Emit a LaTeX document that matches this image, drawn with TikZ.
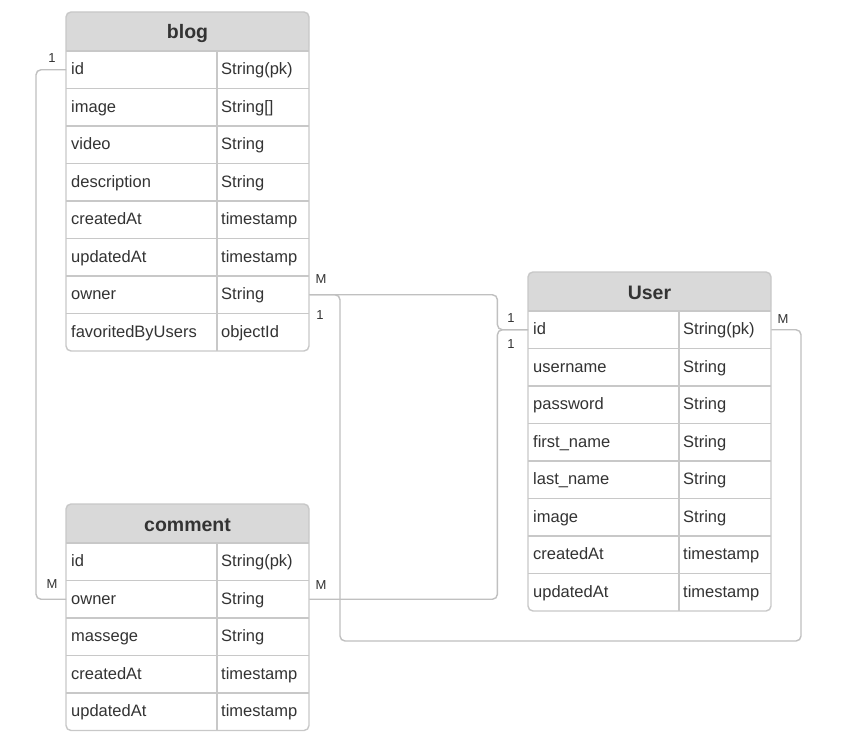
\documentclass[tikz,border=0pt]{standalone}
\usepackage{fontspec}
\setmainfont{Liberation Sans}
\definecolor{txt}{HTML}{333333}
\definecolor{hdrfill}{HTML}{D9D9D9}
\definecolor{bord}{HTML}{C8C8C8}
\definecolor{connc}{HTML}{C0C0C0}
\tikzset{
  tline/.style={draw=bord, line width=1.4pt},
  hdrtext/.style={font=\fontsize{19.5pt}{22pt}\selectfont\bfseries, text=txt, text height=15pt, text depth=0pt, inner sep=0pt},
  fldtext/.style={font=\fontsize{16.5pt}{19pt}\selectfont, text=txt, anchor=west, text height=12.5pt, text depth=2.5pt, inner xsep=5pt, inner ysep=0pt, text width=141pt, align=left, minimum height=37.5pt},
  typtext/.style={font=\fontsize{16.5pt}{19pt}\selectfont, text=txt, anchor=west, text height=12.5pt, text depth=2.5pt, inner xsep=4pt, inner ysep=0pt, text width=84pt, align=left, minimum height=37.5pt},
  lbl/.style={font=\fontsize{13pt}{15pt}\selectfont, text=txt, inner sep=0pt},
  conn/.style={draw=connc, line width=1.4pt, rounded corners=5pt},
}
% #1 name, #2 title, #3 x, #4 y, #5 number of rows, #6 rows
\newcommand\erdtable[6]{%
  \begin{scope}[shift={(#3,#4)}]
    \fill[hdrfill, rounded corners=5pt] (0,0) rectangle (243,39);
    \fill[hdrfill] (0,20) rectangle (243,39);
    \foreach \k in {0,...,\numexpr#5-1\relax}{
      \draw[tline] (0,{39+\k*37.5}) -- (243,{39+\k*37.5});
    }
    \draw[tline] (151,39) -- (151,{39+#5*37.5});
    \draw[tline, rounded corners=5pt] (0,0) rectangle (243,{39+#5*37.5});
    \node[hdrtext] (#1) at (121.5,19.5) {#2};
    \foreach \f/\t [count=\i] in {#6}{
      \node[fldtext] (#1-f\i) at (0,{39+(\i-0.5)*37.5}) {\f};
      \node[typtext] (#1-t\i) at (151,{39+(\i-0.5)*37.5}) {\t};
    }
  \end{scope}}
\begin{document}
\begin{tikzpicture}[x=1pt,y=-1pt]
  \fill[white] (0,0) rectangle (848,746);
  \useasboundingbox (0,0) rectangle (848,746);

  \erdtable{blog}{blog}{66}{12}{8}{id/String(pk), image/String[], video/String, description/String, createdAt/timestamp, updatedAt/timestamp, owner/String, favoritedByUsers/objectId}
  \erdtable{User}{User}{528}{272}{8}{id/String(pk), username/String, password/String, first\_name/String, last\_name/String, image/String, createdAt/timestamp, updatedAt/timestamp}
  \erdtable{comment}{comment}{66}{504}{5}{id/String(pk), owner/String, massege/String, createdAt/timestamp, updatedAt/timestamp}

  \coordinate (loopA) at (340,641);
  \coordinate (loopB) at (801,641);

  \draw[conn] (blog-f1.west) -- ++(-30,0) |- (comment-f2.west);
  \draw[conn] (blog-t7.east) -- ++(188,0) |- (User-f1.west);
  \draw[conn] (comment-t2.east) -- ++(188,0) |- (User-f1.west);
  \draw[conn] (blog-t7.east) -| (loopA) -- (loopB) |- (User-t1.east);

  \node[lbl] (l1) at (52,58) {1};
  \node[lbl] (l2) at (52,584) {M};
  \node[lbl] (l3) at (321,279) {M};
  \node[lbl] (l4) at (320,315) {1};
  \node[lbl] (l5) at (511,318) {1};
  \node[lbl] (l6) at (511,344) {1};
  \node[lbl] (l7) at (783,319) {M};
  \node[lbl] (l8) at (321,585) {M};
\end{tikzpicture}
\end{document}
